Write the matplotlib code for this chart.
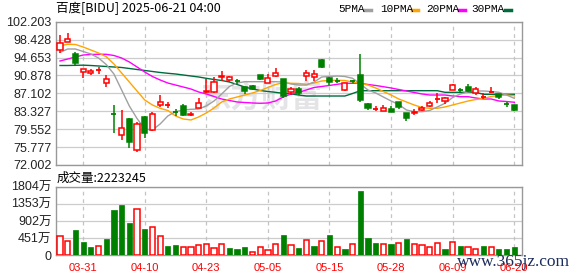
import numpy as np
import matplotlib
matplotlib.use("Agg")
from matplotlib import pyplot as plt

# trading days shown (index 0..59)
dates = ["03-26", "03-27", "03-28", "03-31", "04-01", "04-02", "04-03", "04-04", "04-07", "04-08",
         "04-09", "04-10", "04-11", "04-14", "04-15", "04-16", "04-17", "04-21", "04-22", "04-23",
         "04-24", "04-25", "04-28", "04-29", "04-30", "05-01", "05-02", "05-05", "05-06", "05-07",
         "05-08", "05-09", "05-12", "05-13", "05-14", "05-15", "05-16", "05-19", "05-20", "05-21",
         "05-22", "05-23", "05-27", "05-28", "05-29", "05-30", "06-02", "06-03", "06-04", "06-05",
         "06-06", "06-09", "06-10", "06-11", "06-12", "06-13", "06-16", "06-17", "06-18", "06-20"]

opens = [96.20, 97.99, 95.40, 91.60, 91.39, 91.90, 89.22, 82.75, 78.33, 81.70,
         75.16, 82.18, 79.38, 84.65, 84.60, 83.28, 84.50, 82.50, 84.08, 87.30,
         87.39, 90.50, 89.92, 89.75, 88.38, 88.65, 90.90, 89.22, 90.82, 90.06,
         87.45, 88.00, 90.76, 90.61, 94.13, 90.40, 89.85, 87.81, 89.65, 90.97,
         84.82, 83.75, 83.43, 83.80, 85.25, 82.90, 82.90, 83.60, 84.44, 85.90,
         85.53, 87.75, 87.85, 88.50, 87.24, 86.20, 87.40, 86.90, 84.85, 84.65]
highs = [99.30, 99.76, 95.88, 92.17, 92.23, 92.72, 90.91, 84.65, 83.50, 81.85,
         81.13, 82.33, 83.11, 86.76, 85.22, 83.75, 84.86, 83.17, 86.09, 90.06,
         90.48, 91.80, 90.76, 90.10, 88.38, 88.80, 91.00, 91.08, 92.38, 90.23,
         88.38, 88.50, 92.02, 92.09, 94.30, 90.50, 90.40, 89.28, 89.90, 95.40,
         85.00, 84.40, 84.65, 84.40, 85.30, 83.00, 83.75, 84.37, 85.53, 87.10,
         86.33, 89.12, 88.30, 89.00, 88.43, 87.20, 88.40, 86.90, 85.20, 84.65]
lows = [95.60, 97.86, 93.08, 90.28, 91.00, 91.18, 88.50, 78.81, 77.27, 75.65,
        74.68, 77.63, 79.23, 84.29, 84.08, 82.42, 82.30, 82.33, 83.95, 87.25,
        87.28, 89.70, 89.56, 89.00, 86.90, 87.90, 89.90, 89.20, 90.61, 86.12,
        86.75, 86.75, 89.80, 89.80, 92.51, 88.90, 89.20, 87.65, 89.20, 85.34,
        83.60, 83.30, 83.39, 83.20, 83.90, 81.28, 82.50, 83.45, 84.29, 85.00,
        84.86, 87.75, 87.40, 87.45, 86.75, 86.00, 87.26, 85.98, 84.30, 83.36]
closes = [97.70, 98.56, 93.56, 92.17, 91.88, 92.00, 90.06, 82.65, 79.86, 76.91,
          80.58, 78.68, 82.69, 85.22, 84.70, 83.20, 82.54, 82.85, 85.15, 87.50,
          89.56, 90.70, 90.49, 89.65, 87.66, 88.00, 90.20, 90.34, 91.43, 86.50,
          88.03, 87.20, 91.35, 91.26, 92.72, 89.55, 89.75, 89.28, 89.55, 85.72,
          84.01, 83.85, 83.95, 83.25, 84.29, 81.91, 83.20, 83.97, 85.00, 86.00,
          86.06, 88.76, 87.75, 87.60, 88.09, 86.30, 87.50, 86.25, 84.75, 83.60]

ma5 = [95.75, 96.45, 96.45, 95.92, 95.40, 94.55, 93.18, 91.18, 87.81, 84.44,
       81.80, 79.59, 79.38, 80.64, 82.33, 83.24, 83.59, 83.74, 83.80, 84.44,
       85.49, 86.97, 88.55, 89.28, 89.56, 89.56, 89.56, 89.56, 89.56, 89.49,
       89.07, 88.86, 88.86, 89.49, 90.55, 90.65, 90.76, 90.65, 90.27, 89.07,
       87.81, 87.18, 86.33, 85.49, 84.75, 83.59, 83.24, 83.24, 83.49, 84.23,
       85.01, 86.23, 86.97, 87.39, 87.60, 87.60, 87.49, 87.32, 86.75, 86.06]
ma10 = [97.14, 97.44, 97.40, 96.87, 96.24, 95.61, 94.83, 93.29, 91.39, 89.49,
        87.60, 85.70, 84.65, 83.95, 83.49, 82.33, 81.70, 81.49, 82.12, 82.96,
        84.02, 85.28, 85.91, 86.33, 86.75, 87.18, 87.70, 88.34, 88.97, 89.35,
        89.22, 89.18, 89.01, 89.28, 89.71, 89.81, 89.85, 89.81, 89.49, 89.18,
        88.86, 88.23, 87.49, 86.75, 85.91, 85.28, 84.65, 84.12, 83.95, 83.95,
        84.23, 84.65, 85.07, 85.49, 85.81, 86.02, 86.44, 86.65, 86.75, 86.61]
ma20 = [93.92, 94.34, 94.76, 95.18, 95.29, 95.33, 95.33, 95.08, 94.55, 93.71,
        92.66, 91.60, 90.65, 89.92, 89.28, 88.86, 88.44, 88.02, 87.39, 86.97,
        86.44, 85.91, 85.60, 85.28, 85.17, 85.07, 85.01, 85.07, 85.49, 86.33,
        86.97, 87.32, 87.81, 88.34, 88.55, 88.76, 89.01, 89.22, 89.22, 89.22,
        88.97, 88.76, 88.50, 88.23, 87.91, 87.60, 87.28, 86.97, 86.75, 86.75,
        86.75, 86.54, 86.40, 86.40, 86.12, 85.91, 85.91, 85.49, 85.38, 85.22]
ma30 = [92.97, 92.97, 93.01, 93.04, 92.97, 92.87, 92.76, 92.66, 92.55, 92.34,
        92.13, 91.92, 91.71, 91.50, 91.33, 91.18, 90.97, 90.76, 90.55, 90.27,
        90.02, 89.81, 89.49, 88.97, 88.44, 88.02, 87.70, 87.49, 87.32, 87.11,
        86.97, 86.75, 86.54, 86.54, 86.54, 86.54, 86.54, 86.54, 87.07, 87.66,
        87.66, 87.66, 87.66, 87.66, 87.66, 87.66, 87.66, 87.66, 87.66, 87.66,
        87.32, 87.32, 87.32, 87.32, 87.32, 86.90, 86.90, 86.90, 86.90, 86.90]

# volume in units of 万 shares, and whether the bar is red (up) or green (down)
volumes = [508, 376, 665, 350, 226, 252, 429, 1199, 1323, 850,
           1218, 692, 736, 500, 245, 271, 218, 218, 263, 289,
           192, 289, 192, 174, 218, 79, 210, 131, 289, 534,
           271, 200, 402, 252, 376, 534, 226, 166, 289, 1691,
           463, 324, 289, 297, 324, 429, 289, 263, 226, 316,
           174, 342, 245, 226, 174, 245, 218, 174, 174, 222]
vol_up = [1, 1, 0, 0, 0, 1, 0, 0, 0, 0, 1, 0, 1, 1, 0, 0, 1, 1, 1, 1,
          1, 1, 0, 0, 0, 1, 1, 1, 1, 0, 1, 0, 1, 0, 1, 0, 1, 0, 1, 0,
          0, 0, 1, 0, 1, 0, 1, 1, 1, 1, 0, 1, 0, 1, 1, 0, 1, 0, 0, 0]

price_ticks = [72.002, 75.777, 79.552, 83.327, 87.102, 90.878, 94.653, 98.428, 102.203]
vol_ticks = [0, 451, 902, 1353, 1804]
vol_tick_labels = ["0", "451万", "902万", "1353万", "1804万"]
label_dates = ["03-31", "04-10", "04-23", "05-05", "05-15", "05-28", "06-09", "06-20"]

RED = "#ff0000"
GREEN = "#008000"
ma_colors = ["#a0a0a0", "#ffa500", "#ff00ff", "#006b3c"]
ma_names = ["5PMA", "10PMA", "20PMA", "30PMA"]

x = np.arange(len(dates))
label_idx = [dates.index(d) for d in label_dates]

fig = plt.figure(figsize=(5.78, 2.76), dpi=100)
ax = fig.add_axes([0.0964, 0.4022, 0.8072, 0.5192])
axv = fig.add_axes([0.0964, 0.0750, 0.8072, 0.2486])

for a in (ax, axv):
    a.set_xlim(-0.56, 60.04)
    for s in a.spines.values():
        s.set_color("#999999")
        s.set_linewidth(1)
    a.tick_params(length=0, labelsize=9, colors="#222222")
    a.set_xticks([])
    for i in label_idx:
        a.axvline(i, color="#c4c4c4", lw=0.9, dashes=(3, 3), zorder=1)

# price panel
ax.set_ylim(72.002, 102.203)
ax.set_yticks(price_ticks)
ax.set_yticklabels([f"{t:.3f}" for t in price_ticks], fontfamily="Liberation Sans")
ax.tick_params(axis="y", pad=3)
ax.grid(axis="y", color="#cccccc", lw=0.9)
ax.set_axisbelow(True)

# faint site watermark behind the candles
ax.text(0.44, 0.47, "东方财富", transform=ax.transAxes, fontsize=22, fontweight="bold",
        fontfamily="Noto Sans CJK SC", color="#e4e4e6", ha="center", va="center", zorder=0)

for vals, c in zip([ma30, ma20, ma10, ma5], ma_colors[::-1]):
    ax.plot(x, vals, color=c, lw=1.0, zorder=2)

body_w = 0.66
for i in x:
    o, h, l, c = opens[i], highs[i], lows[i], closes[i]
    col = RED if c >= o else GREEN
    ax.vlines(i, l, h, color=col, lw=1.1, zorder=3)
    lo, hi = min(o, c), max(o, c)
    if hi - lo < 0.15:
        ax.hlines((o + c) / 2, i - body_w / 2, i + body_w / 2, color=col, lw=1.3, zorder=4)
    else:
        face = "white" if col == RED else GREEN
        ax.bar(i, hi - lo, bottom=lo, width=body_w, facecolor=face, edgecolor=col,
               lw=1.1, zorder=4)

# volume panel
axv.set_ylim(0, 1804)
axv.set_yticks(vol_ticks)
axv.set_yticklabels(vol_tick_labels, fontfamily=["Liberation Sans", "Noto Sans CJK SC"])
axv.tick_params(axis="y", pad=3)
axv.grid(axis="y", color="#cccccc", lw=0.9)
axv.set_axisbelow(True)
for i in x:
    if vol_up[i]:
        axv.bar(i, volumes[i], width=0.68, facecolor="white", edgecolor=RED, lw=1.1, zorder=3)
    else:
        axv.bar(i, volumes[i], width=0.68, facecolor=GREEN, edgecolor=GREEN, lw=0.5, zorder=3)

for i, d in zip(label_idx, label_dates):
    axv.text(i, -0.19, d, transform=axv.get_xaxis_transform(), ha="center", va="center",
             color=RED, fontsize=8, fontfamily="Liberation Sans")

# texts
fig.text(56 / 578, 1 - 8.5 / 276, "百度[BIDU] 2025-06-21 04:00", fontsize=9,
         fontfamily=["Noto Sans CJK SC", "DejaVu Sans"], va="center", ha="left")
fig.text(57 / 578, 1 - 178 / 276, "成交量:2223245", fontsize=9,
         fontfamily=["Noto Sans CJK SC", "DejaVu Sans"], va="center", ha="left")

legend_x = [338, 380, 426, 471]
dash_x = [365, 412, 459, 505]
for name, c, tx, dx in zip(ma_names, ma_colors, legend_x, dash_x):
    fig.text(tx / 578, 1 - 9 / 276, name, fontsize=8, fontfamily="Liberation Mono",
             va="center", ha="left")
    fig.add_artist(plt.Line2D([dx / 578, (dx + 6) / 578], [1 - 9.5 / 276] * 2,
                              color=c, lw=2.5, transform=fig.transFigure))

fig.text(513 / 578, 1 - 262 / 276, "www.365jz.com", fontsize=12.5, fontfamily="Liberation Serif",
         color="#1c2d5c", ha="center", va="center", zorder=10)

fig.savefig("out.png", dpi=100)
